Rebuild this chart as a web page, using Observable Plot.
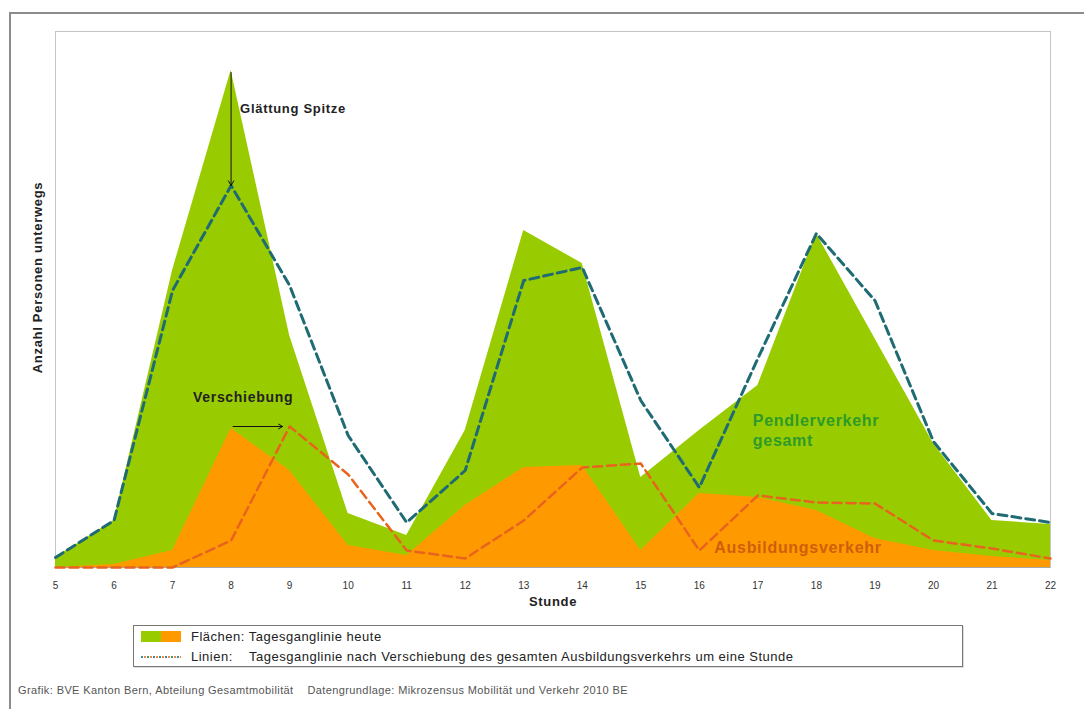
<!DOCTYPE html>
<html>
<head>
<meta charset="utf-8">
<script src="https://cdn.jsdelivr.net/npm/d3@7"></script>
<script src="https://cdn.jsdelivr.net/npm/@observablehq/plot@0.6"></script>
<style>
html, body { margin:0; padding:0; width:1084px; height:709px; overflow:hidden; background:#fff;
  font-family: Arial, "Liberation Sans", sans-serif; }
#outer { position:absolute; left:9px; top:12px; width:1100px; height:740px; border:2px solid #8c8c8c; box-sizing:border-box; }
#chart { position:absolute; left:0; top:0; }
#chart svg g[aria-label="text"] text { letter-spacing: 0.7px; }
#legend { position:absolute; left:133px; top:625px; width:830px; height:42px; border:1px solid #777;
  box-sizing:border-box; background:#fff; box-shadow: 1px 1px 0 #ddd; }
#legend .sw { position:absolute; left:7px; top:5px; width:40px; height:11px; }
#legend .sw i { display:inline-block; width:20px; height:11px; vertical-align:top; }
#legend .dots { position:absolute; left:7px; top:30px; width:40px; height:2px;
  background: repeating-linear-gradient(90deg, #3c8f8f 0 2px, #fff 2px 3px, #f08a3c 3px 5px, #fff 5px 6px); }
#legend .t { position:absolute; left:57px; font-size:13px; letter-spacing:0.5px; color:#222; white-space:pre; line-height:14px; }
#caption { position:absolute; left:18px; top:684px; font-size:11px; letter-spacing:0.4px; color:#555; white-space:pre; }
</style>
</head>
<body>
<div id="outer"></div>
<div id="chart"></div>
<div id="legend">
  <span class="sw"><i style="background:#99cc00"></i><i style="background:#ff9900"></i></span>
  <span class="t" style="top:4px">Flächen: Tagesganglinie heute</span>
  <span class="dots"></span>
  <span class="t" style="top:24px">Linien:    Tagesganglinie nach Verschiebung des gesamten Ausbildungsverkehrs um eine Stunde</span>
</div>
<div id="caption">Grafik: BVE Kanton Bern, Abteilung Gesamtmobilität    Datengrundlage: Mikrozensus Mobilität und Verkehr 2010 BE</div>
<script>
// Hours of day
const hours = [5, 6, 7, 8, 9, 10, 11, 12, 13, 14, 15, 16, 17, 18, 19, 20, 21, 22];
const tickLabels = hours.map(String);
// Areas: today (index units)
const heuteGesamt      = [10, 47, 297, 497, 232, 54, 32, 137, 337, 304, 90, 137, 182, 334, 229, 124, 47, 43];
const heuteAusbildung  = [0, 3, 17, 139, 97, 22, 12, 62, 100, 102, 17, 74, 70, 57, 29, 17, 11, 7];
// Lines: after shifting all education traffic by one hour
const nachGesamt       = [10, 47, 277, 382, 282, 132, 45, 97, 287, 300, 167, 80, 209, 334, 267, 126, 54, 45];
const nachAusbildung   = [0, 0, 0, 27, 141, 93, 17, 9, 47, 100, 104, 17, 72, 65, 64, 27, 19, 9];

const rows = hours.map((h, i) => ({
  h, g: heuteGesamt[i], a: heuteAusbildung[i], gs: nachGesamt[i], as: nachAusbildung[i]
}));

const i8 = hours.indexOf(8), i9 = hours.indexOf(9);
const arrowSmooth = [{x: 8, y1: heuteGesamt[i8], y2: nachGesamt[i8]}];
const arrowShift = [{x1: 8, x2: 9, y: nachAusbildung[i9]}];

const font = "Arial, 'Liberation Sans', sans-serif";

const chart = Plot.plot({
  width: 1084,
  height: 620,
  marginLeft: 55,
  marginRight: 34,
  marginTop: 31,
  marginBottom: 53,
  style: {fontFamily: font, fontSize: "10px", color: "#333", background: "transparent", overflow: "visible"},
  x: {domain: [5, 22], ticks: hours, tickFormat: (d) => tickLabels[hours.indexOf(d)], tickSize: 0, tickPadding: 14, label: null},
  y: {domain: [0, 536], axis: null},
  marks: [
    Plot.frame({stroke: "#c4c4c4"}),
    Plot.areaY(rows, {x: "h", y: "g", fill: "#99cc00"}),
    Plot.areaY(rows, {x: "h", y: "a", fill: "#ff9900"}),
    Plot.ruleY([0], {stroke: "#a8a8a8"}),
    Plot.line(rows, {x: "h", y: "gs", stroke: "#1f6b73", strokeWidth: 3, strokeDasharray: "9,5"}),
    Plot.line(rows, {x: "h", y: "as", stroke: "#e8641e", strokeWidth: 2.5, strokeDasharray: "9,5"}),
    Plot.arrow(arrowSmooth, {x1: "x", x2: "x", y1: "y1", y2: "y2", stroke: "#111", strokeWidth: 1, headLength: 8, insetStart: 2}),
    Plot.arrow(arrowShift, {x1: "x1", x2: "x2", y1: "y", y2: "y", stroke: "#111", strokeWidth: 1, headLength: 7, insetStart: 2, insetEnd: 7}),
    Plot.text(["Glättung Spitze"], {x: 8, y: heuteGesamt[i8], dx: 9, dy: 38, textAnchor: "start", fontWeight: "bold", fontSize: 13, fill: "#222"}),
    Plot.text(["Verschiebung"], {x: 8, y: nachAusbildung[i9], dx: 12, dy: -29, textAnchor: "middle", fontWeight: "bold", fontSize: 14, fill: "#222"}),
    Plot.text(["Pendlerverkehr\ngesamt"], {x: 17, y: heuteGesamt[hours.indexOf(17)], dx: -5, dy: 44, textAnchor: "start", fontWeight: "bold", fontSize: 16, lineHeight: 1.25, fill: "#2e9a2a"}),
    Plot.text(["Ausbildungsverkehr"], {x: 16, y: 0, dx: 15, dy: -20, textAnchor: "start", fontWeight: "bold", fontSize: 16, fill: "#cf5f0c"}),
    Plot.text(["Anzahl Personen unterwegs"], {frameAnchor: "left", rotate: -90, textAnchor: "middle", dx: -18, dy: -22, fontWeight: "bold", fontSize: 13, fill: "#222"}),
    Plot.text(["Stunde"], {frameAnchor: "bottom", dy: 38, fontWeight: "bold", fontSize: 13, fill: "#222"})
  ]
});
document.getElementById("chart").appendChild(chart);
</script>
</body>
</html>
